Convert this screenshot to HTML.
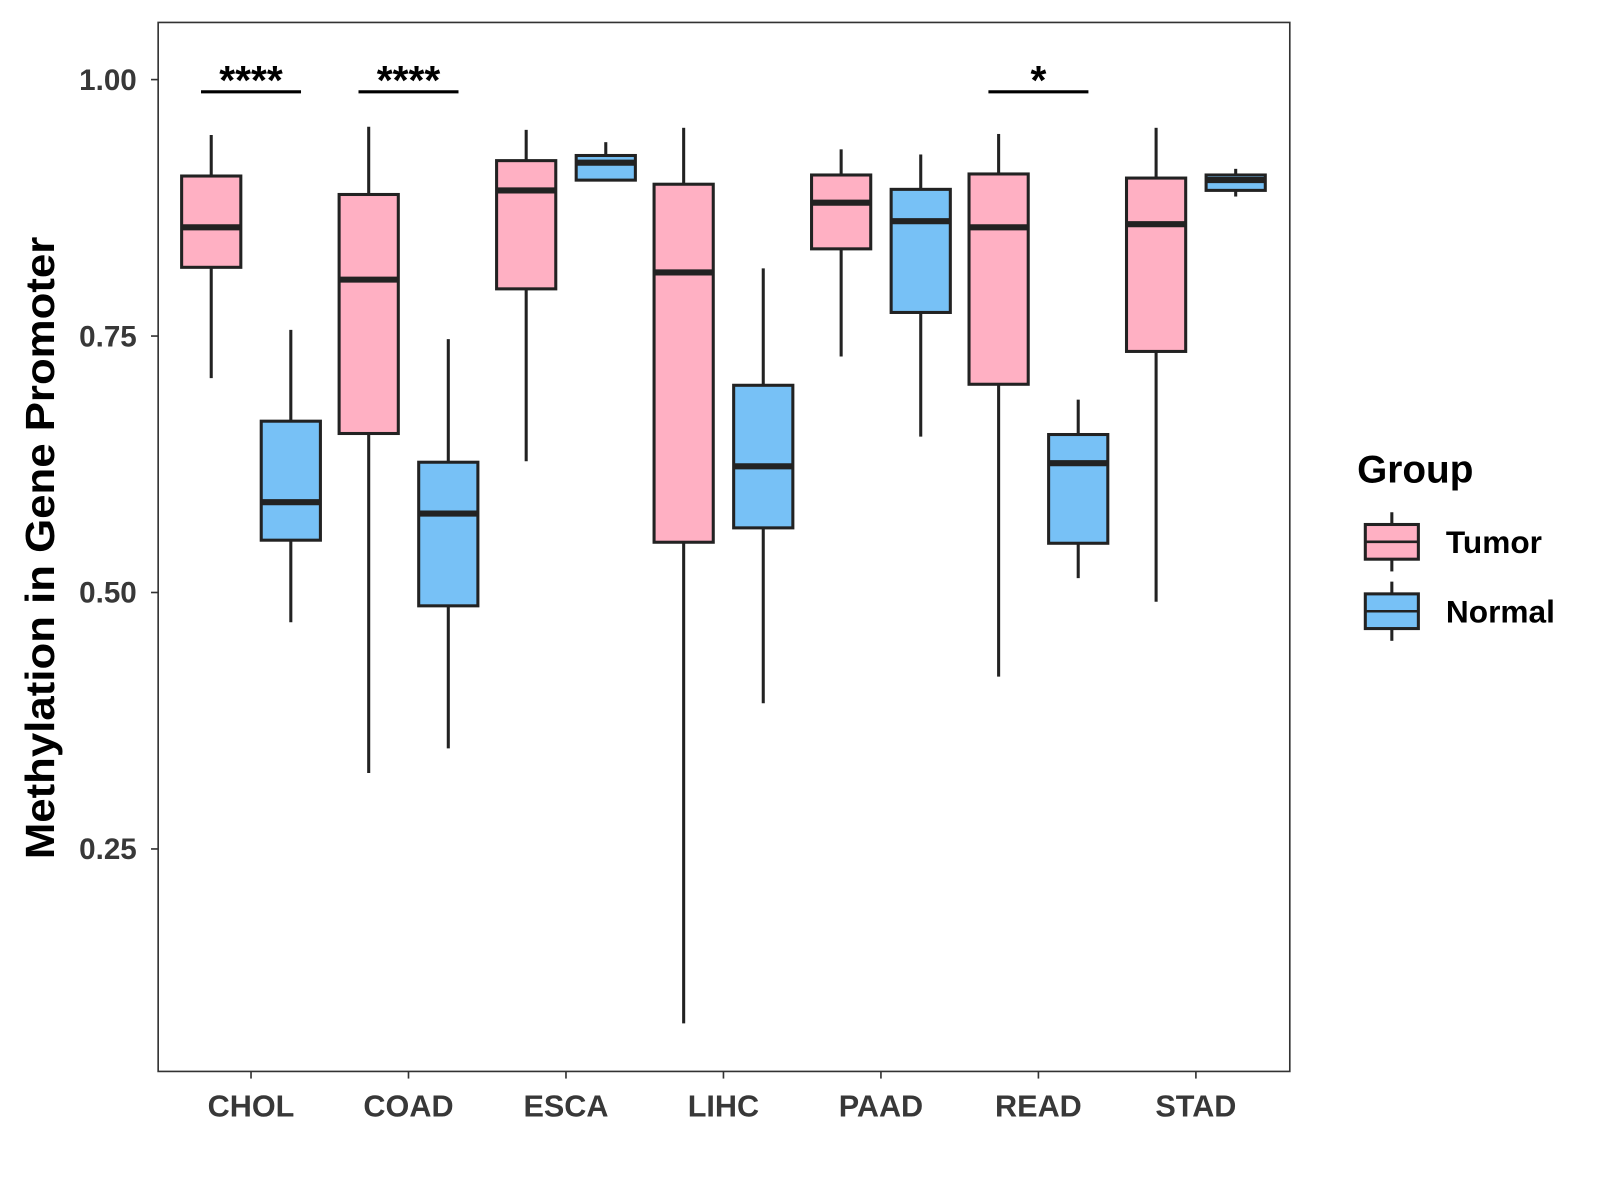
<!DOCTYPE html>
<html><head><meta charset="utf-8"><style>html,body{margin:0;padding:0;background:#fff}svg{display:block}</style></head>
<body>
<svg id="chart" width="1600" height="1200" viewBox="0 0 1568 1176" xmlns="http://www.w3.org/2000/svg" font-family="Liberation Sans, Arial, sans-serif">
<rect width="1568" height="1176" fill="#fff"/>
<g id="plot"></g>
<text transform="translate(53,537) rotate(-90)" text-anchor="middle" font-size="40" font-weight="bold" fill="#000" textLength="610" lengthAdjust="spacingAndGlyphs">Methylation in Gene Promoter</text>
<g>
<text x="1330" y="473" font-size="38" font-weight="bold">Group</text>
</g>
</svg>
<script>
const categories=["CHOL","COAD","ESCA","LIHC","PAAD","READ","STAD"];
// [upper whisker, q3, median, q1, lower whisker]
const tumor=[[0.946,0.906,0.856,0.817,0.709],[0.954,0.888,0.805,0.655,0.324],[0.951,0.921,0.892,0.796,0.628],[0.953,0.898,0.812,0.549,0.080],[0.932,0.907,0.880,0.835,0.730],[0.947,0.908,0.856,0.703,0.418],[0.953,0.904,0.859,0.735,0.491]];
const normal=[[0.756,0.667,0.588,0.551,0.471],[0.747,0.627,0.577,0.487,0.348],[0.939,0.926,0.919,0.902,0.902],[0.816,0.702,0.623,0.563,0.392],[0.927,0.893,0.862,0.773,0.652],[0.688,0.654,0.626,0.548,0.514],[0.913,0.907,0.902,0.892,0.886]];
const yTicks=[0.25,0.5,0.75,1.0];
const yTickLabels=["0.25","0.50","0.75","1.00"];
const sigLabels=["****","****","","","","*",""];
const groups=["Tumor","Normal"];
const colors=["#ffb0c3","#77c1f6"];

const L=155,T=22,R=1264,B=1050;
const y=v=>78+(1-v)*1005.3;
const x=i=>246+i*154.33;
const NS="http://www.w3.org/2000/svg";
const g=document.getElementById('plot');
function mk(tag,attrs,parent){const e=document.createElementNS(NS,tag);for(const k in attrs)e.setAttribute(k,attrs[k]);(parent||g).appendChild(e);return e;}

let panel=mk('rect',{x:L,y:T,width:R-L,height:B-T,fill:'none',stroke:'#333','stroke-width':1.6});



yTicks.forEach((v,i)=>{
  let t=mk('line',{x1:L-7,x2:L,y1:y(v),y2:y(v),stroke:'#333','stroke-width':1.6});
  
  
  let tx=mk('text',{x:L-21,y:y(v)+10,'text-anchor':'end','font-size':29,'font-weight':'bold',fill:'#383838'});
  tx.textContent=yTickLabels[i];
  
  
});
categories.forEach((c,i)=>{
  let t=mk('line',{x1:x(i),x2:x(i),y1:B,y2:B+7,stroke:'#333','stroke-width':1.6});
  
  
  let tx=mk('text',{x:x(i),y:B+44,'text-anchor':'middle','font-size':30,'font-weight':'bold',fill:'#383838'});
  tx.textContent=c;
  
  
});
function box(cx,d,col,name){
  const w=29;
  const grp=mk('g',{});
  
  
  mk('line',{x1:cx,x2:cx,y1:y(d[0]),y2:y(d[1]),stroke:'#222','stroke-width':3},grp);
  mk('line',{x1:cx,x2:cx,y1:y(d[3]),y2:y(d[4]),stroke:'#222','stroke-width':3},grp);
  mk('rect',{x:cx-w,y:y(d[1]),width:2*w,height:Math.max(y(d[3])-y(d[1]),0.5),fill:col,stroke:'#222','stroke-width':3},grp);
  mk('line',{x1:cx-w,x2:cx+w,y1:y(d[2]),y2:y(d[2]),stroke:'#222','stroke-width':6},grp);
}
categories.forEach((c,i)=>{
  box(x(i)-39,tumor[i],colors[0],'box-tumor-'+c.toLowerCase());
  box(x(i)+39,normal[i],colors[1],'box-normal-'+c.toLowerCase());
  if(sigLabels[i]){
    let l=mk('line',{x1:x(i)-49,x2:x(i)+49,y1:90,y2:90,stroke:'#000','stroke-width':3});
    
    
    let s=mk('text',{x:x(i),y:92,'text-anchor':'middle','font-size':40,'font-weight':'bold',fill:'#000'});
    s.textContent=sigLabels[i];
    
    
  }
});
const svg=document.getElementById('chart');
groups.forEach((gname,i)=>{
  const cy=531+i*68;
  const lg=mk('g',{},svg);
  
  
  mk('line',{x1:1364,x2:1364,y1:cy-29,y2:cy+29,stroke:'#222','stroke-width':3},lg);
  mk('rect',{x:1338,y:cy-17,width:52,height:34,fill:colors[i],stroke:'#222','stroke-width':3},lg);
  mk('line',{x1:1338,x2:1390,y1:cy,y2:cy,stroke:'#222','stroke-width':2.5},lg);
  const t=mk('text',{x:1417,y:cy+11,'font-size':31,'font-weight':'bold',fill:'#000'},lg);
  t.textContent=gname;
});
</script>
</body></html>
